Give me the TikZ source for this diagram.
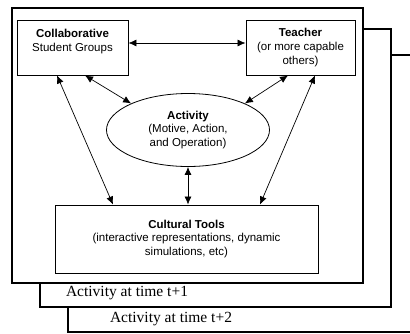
\documentclass[tikz,border=0pt]{standalone}
\usepackage{fontspec}
\setmainfont{Liberation Serif}
\setsansfont{Liberation Sans}
\usetikzlibrary{arrows.meta, positioning, shapes.geometric, calc}
\tikzset{
    frame/.style={draw, line width=1.2pt, fill=white},
    box/.style={draw, line width=0.9pt, fill=white, align=center, inner sep=0pt,
        font=\sffamily\fontsize{11.5}{13.8}\selectfont},
    twoway/.style={{Latex[length=8pt,width=7pt]}-{Latex[length=8pt,width=7pt]}, line width=0.7pt},
    timelabel/.style={font=\fontsize{15.5}{18}\selectfont, inner sep=0pt},
}

\begin{document}
\begin{tikzpicture}[x=1pt, y=-1pt]
    \useasboundingbox (0,0) rectangle (410,333);
    \clip (0,0) rectangle (410,333);

    % stacked activity frames, back to front
    \draw[frame] (68,55) rectangle (420,332);
    \draw[frame] (40,29) rectangle (391,307);
    \draw[frame] (12,8) rectangle (363,283);

    \node[timelabel] (t1) at (127,293) {Activity at time t+1};
    \node[timelabel] (t2) at (171,319) {Activity at time t+2};

    \node[box, minimum width=111pt, minimum height=55pt] (groups) at (72.5,47.5)
        {\textbf{Collaborative}\\Student Groups\\~};
    \node[box, minimum width=109pt, minimum height=55pt] (teacher) at (300.5,47.5)
        {\textbf{Teacher}\\(or more capable\\others)};
    \node[box, ellipse, line width=0.8pt, minimum width=163pt, minimum height=73pt] (activity) at (188,130)
        {\textbf{Activity}\\(Motive, Action,\\and Operation)};
    \node[box, minimum width=263pt, minimum height=68pt] (tools) at (186.5,239)
        {\textbf{Cultural Tools}\\(interactive representations, dynamic\\simulations, etc)};

    \draw[twoway] ([yshift=4.5pt]groups.east) -- ([yshift=4.5pt]teacher.west);
    \draw[twoway] ([xshift=-15.5pt]groups.south) -- ([xshift=-73.5pt]tools.north);
    \draw[twoway] ([xshift=12.5pt]groups.south) -- (activity.155);
    \draw[twoway] ([xshift=-12.5pt]teacher.south) -- (activity.25);
    \draw[twoway] ([xshift=14.5pt]teacher.south) -- ([xshift=73.5pt]tools.north);
    \draw[twoway] (activity.south) -- (activity.south |- tools.north);
\end{tikzpicture}
\end{document}
